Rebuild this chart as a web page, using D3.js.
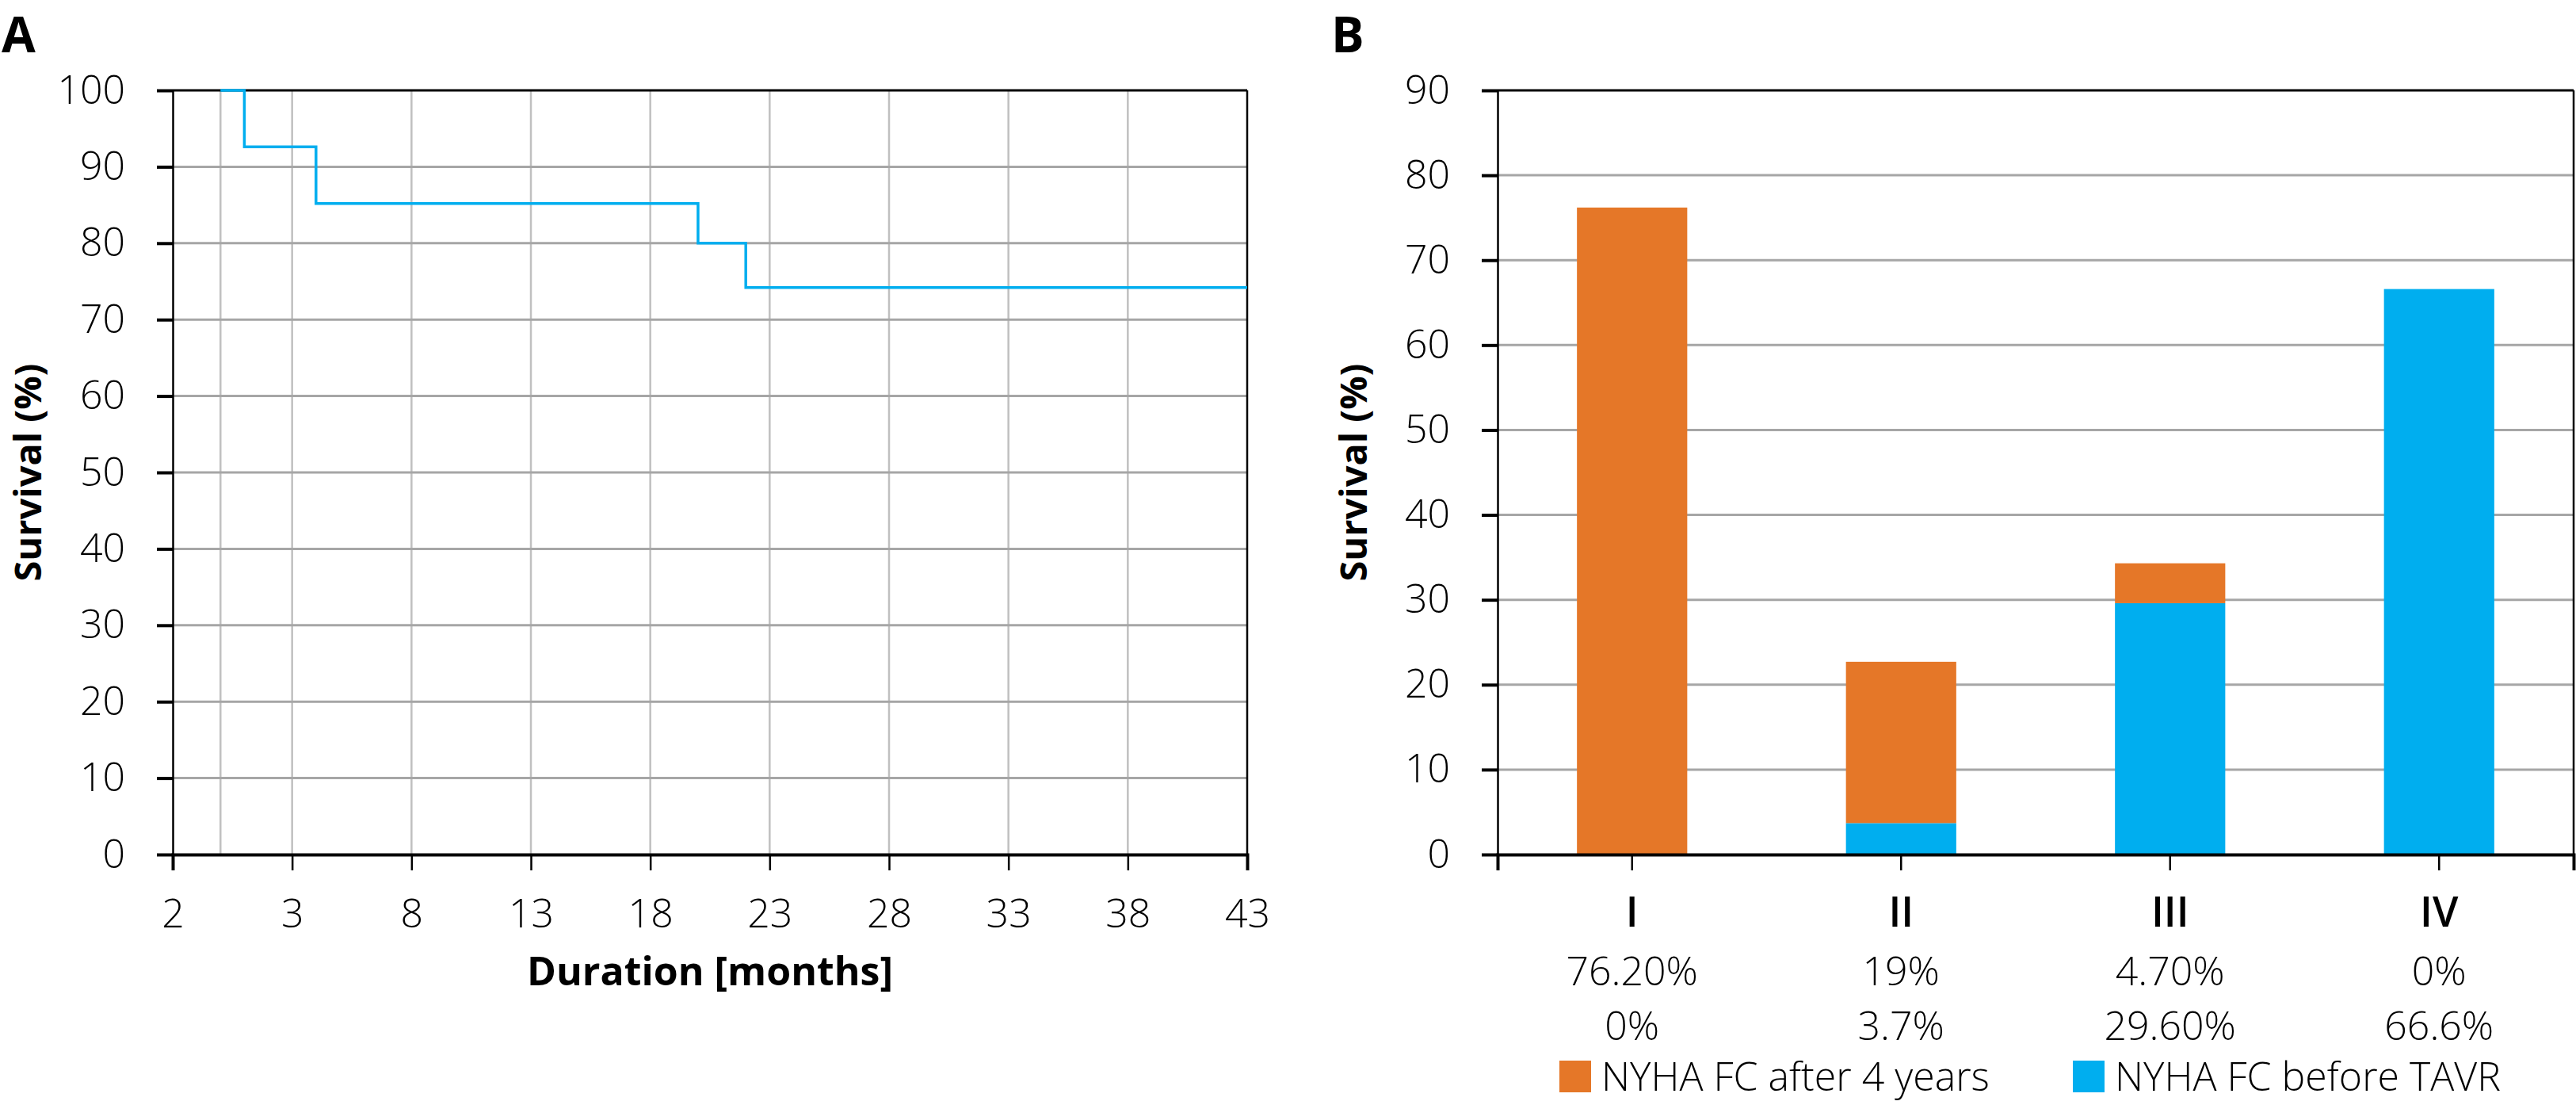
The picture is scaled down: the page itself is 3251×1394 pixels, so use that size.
<!DOCTYPE html>
<html>
<head>
<meta charset="utf-8">
<script src="https://cdn.jsdelivr.net/npm/d3@7"></script>
<style>
  body { margin: 0; background: #fff; }
  text { font-family: "Open Sans", "Noto Sans", sans-serif; fill: #000; }
</style>
</head>
<body>
<div id="chart"></div>
<script>
// panel A: survival curve
const kmTime = [0, 1, 4, 20, 22, 43];
const kmSurvival = [100, 92.6, 85.2, 80.0, 74.2, 74.2];
const xTickValues = [-2, 3, 8, 13, 18, 23, 28, 33, 38, 43];
const xTickLabels = ["2", "3", "8", "13", "18", "23", "28", "33", "38", "43"];
const xGridValues = [0, 3, 8, 13, 18, 23, 28, 33, 38];
const yTicksA = [0, 10, 20, 30, 40, 50, 60, 70, 80, 90, 100];

// panel B: NYHA class bars
const nyhaClasses = ["I", "II", "III", "IV"];
const after4Years = [76.2, 19, 4.7, 0];
const beforeTAVR = [0, 3.7, 29.6, 66.6];
const after4YearsLabels = ["76.20%", "19%", "4.70%", "0%"];
const beforeTAVRLabels = ["0%", "3.7%", "29.60%", "66.6%"];
const yTicksB = [0, 10, 20, 30, 40, 50, 60, 70, 80, 90];
const seriesNames = ["NYHA FC after 4 years", "NYHA FC before TAVR"];

const W = 3251, H = 1394;
const plotTop = 114, plotBottom = 1078;
const orange = "#e57728", blue = "#00aeef";
const gridCol = "#a6a6a6", vGridCol = "#c0c0c0";

const svg = d3.select("#chart")
	.append("svg")
	.attr("width", W)
	.attr("height", H);

// ---------- A ----------
const xA = d3.scaleLinear().domain([-2, 43]).range([218, 1574]);
const yA = d3.scaleLinear().domain([0, 100]).range([plotBottom, plotTop]);

const gA = svg.append("g");

gA.selectAll(".vgrid")
	.data(xGridValues)
	.enter().append("line")
	.attr("x1", d => xA(d)).attr("x2", d => xA(d))
	.attr("y1", plotTop).attr("y2", plotBottom)
	.attr("stroke", vGridCol)
	.attr("stroke-width", 2.5);

gA.selectAll(".hgrid")
	.data(yTicksA.slice(1, -1))
	.enter().append("line")
	.attr("x1", xA(-2)).attr("x2", xA(43))
	.attr("y1", d => yA(d)).attr("y2", d => yA(d))
	.attr("stroke", gridCol)
	.attr("stroke-width", 3);

// frame
gA.append("line").attr("x1", xA(-2)).attr("x2", xA(43)).attr("y1", plotTop).attr("y2", plotTop)
	.attr("stroke", "#000").attr("stroke-width", 3);
gA.append("line").attr("x1", xA(43)).attr("x2", xA(43)).attr("y1", plotTop).attr("y2", plotBottom)
	.attr("stroke", "#000").attr("stroke-width", 2.5);

// axes
const yAxisA = gA.append("g")
	.attr("transform", "translate(" + xA(-2) + ",0)")
	.call(d3.axisLeft(yA).tickValues(yTicksA).tickSize(20).tickPadding(40));
const xAxisA = gA.append("g")
	.attr("transform", "translate(0," + plotBottom + ")")
	.call(d3.axisBottom(xA).tickValues(xTickValues).tickFormat((d, i) => xTickLabels[i]).tickSize(20).tickPadding(36));

// survival line (on top of the frame)
const line = d3.line()
	.x((d, i) => xA(kmTime[i]))
	.y(d => yA(d))
	.curve(d3.curveStepAfter);
gA.append("path")
	.attr("d", line(kmSurvival))
	.attr("fill", "none")
	.attr("stroke", blue)
	.attr("stroke-width", 3.5);

// ---------- B ----------
const xB = d3.scaleBand().domain(nyhaClasses).range([1890, 3248]).paddingInner(0.59).paddingOuter(0.295);
const yB = d3.scaleLinear().domain([0, 90]).range([plotBottom, plotTop]);

const gB = svg.append("g");

gB.selectAll(".hgrid")
	.data(yTicksB.slice(1, -1))
	.enter().append("line")
	.attr("x1", 1890).attr("x2", 3248)
	.attr("y1", d => yB(d)).attr("y2", d => yB(d))
	.attr("stroke", gridCol)
	.attr("stroke-width", 3);

const barRows = nyhaClasses.map((c, i) => ({cls: c, before: beforeTAVR[i], after: after4Years[i]}));
const stacked = d3.stack().keys(["before", "after"])(barRows);
const colours = {before: blue, after: orange};

gB.selectAll(".series")
	.data(stacked)
	.enter().append("g")
	.attr("fill", d => colours[d.key])
	.selectAll("rect")
	.data(d => d)
	.enter().append("rect")
	.attr("x", d => xB(d.data.cls))
	.attr("width", xB.bandwidth())
	.attr("y", d => yB(d[1]))
	.attr("height", d => yB(d[0]) - yB(d[1]));

gB.append("line").attr("x1", 1890).attr("x2", 3248).attr("y1", plotTop).attr("y2", plotTop)
	.attr("stroke", "#000").attr("stroke-width", 3);
gB.append("line").attr("x1", 3248).attr("x2", 3248).attr("y1", plotTop).attr("y2", plotBottom)
	.attr("stroke", "#000").attr("stroke-width", 2.5);

const yAxisB = gB.append("g")
	.attr("transform", "translate(1890,0)")
	.call(d3.axisLeft(yB).tickValues(yTicksB).tickSize(20).tickPadding(40));
const xAxisB = gB.append("g")
	.attr("transform", "translate(0," + plotBottom + ")")
	.call(d3.axisBottom(xB).tickSize(20).tickPadding(34));

// style the axes
[yAxisA, yAxisB].forEach(ax => {
	ax.select(".domain").attr("stroke", "#000").attr("stroke-width", 2.5);
	ax.selectAll(".tick line").attr("stroke", "#000").attr("stroke-width", 4);
});
[xAxisA, xAxisB].forEach(ax => {
	ax.select(".domain").attr("stroke", "#000").attr("stroke-width", 4);
	ax.selectAll(".tick line").attr("stroke", "#000").attr("stroke-width", 2.5);
});
svg.selectAll(".tick text")
	.attr("font-family", "'Open Sans', sans-serif")
	.attr("font-size", 50)
	.attr("font-weight", 300)
	.attr("fill", "#000");
xAxisB.selectAll(".tick text").attr("font-weight", 600).attr("font-size", 52);

// value rows under the categories
gB.selectAll(".afterLbl")
	.data(after4YearsLabels)
	.enter().append("text")
	.attr("x", (d, i) => xB(nyhaClasses[i]) + xB.bandwidth() / 2)
	.attr("y", 1243)
	.attr("text-anchor", "middle")
	.attr("font-size", 50)
	.attr("font-weight", 300)
	.text(d => d);
gB.selectAll(".beforeLbl")
	.data(beforeTAVRLabels)
	.enter().append("text")
	.attr("x", (d, i) => xB(nyhaClasses[i]) + xB.bandwidth() / 2)
	.attr("y", 1312)
	.attr("text-anchor", "middle")
	.attr("font-size", 50)
	.attr("font-weight", 300)
	.text(d => d);

// legend
const legend = gB.selectAll(".legend")
	.data(seriesNames)
	.enter().append("g")
	.attr("transform", (d, i) => "translate(" + (i === 0 ? 1968 : 2616) + ",1338)");
legend.append("rect")
	.attr("width", 40).attr("height", 40)
	.attr("fill", (d, i) => i === 0 ? orange : blue);
legend.append("text")
	.attr("x", 53).attr("y", 38)
	.attr("font-size", 50)
	.attr("font-weight", 300)
	.text(d => d);

// titles
svg.append("text")
	.attr("x", xA(20.5)).attr("y", 1243)
	.attr("text-anchor", "middle")
	.attr("font-size", 50).attr("font-weight", 700)
	.text("Duration [months]");
[32, 1705].forEach(cx => {
	svg.append("text")
		.attr("transform", "translate(" + (cx + 20) + ",596) rotate(-90)")
		.attr("text-anchor", "middle")
		.attr("font-size", 47).attr("font-weight", 700)
		.text("Survival (%)");
});
svg.append("text").attr("x", 2).attr("y", 66)
	.attr("font-size", 62).attr("font-weight", 700).text("A");
svg.append("text").attr("x", 1680).attr("y", 66)
	.attr("font-size", 62).attr("font-weight", 700).text("B");
</script>
</body>
</html>
